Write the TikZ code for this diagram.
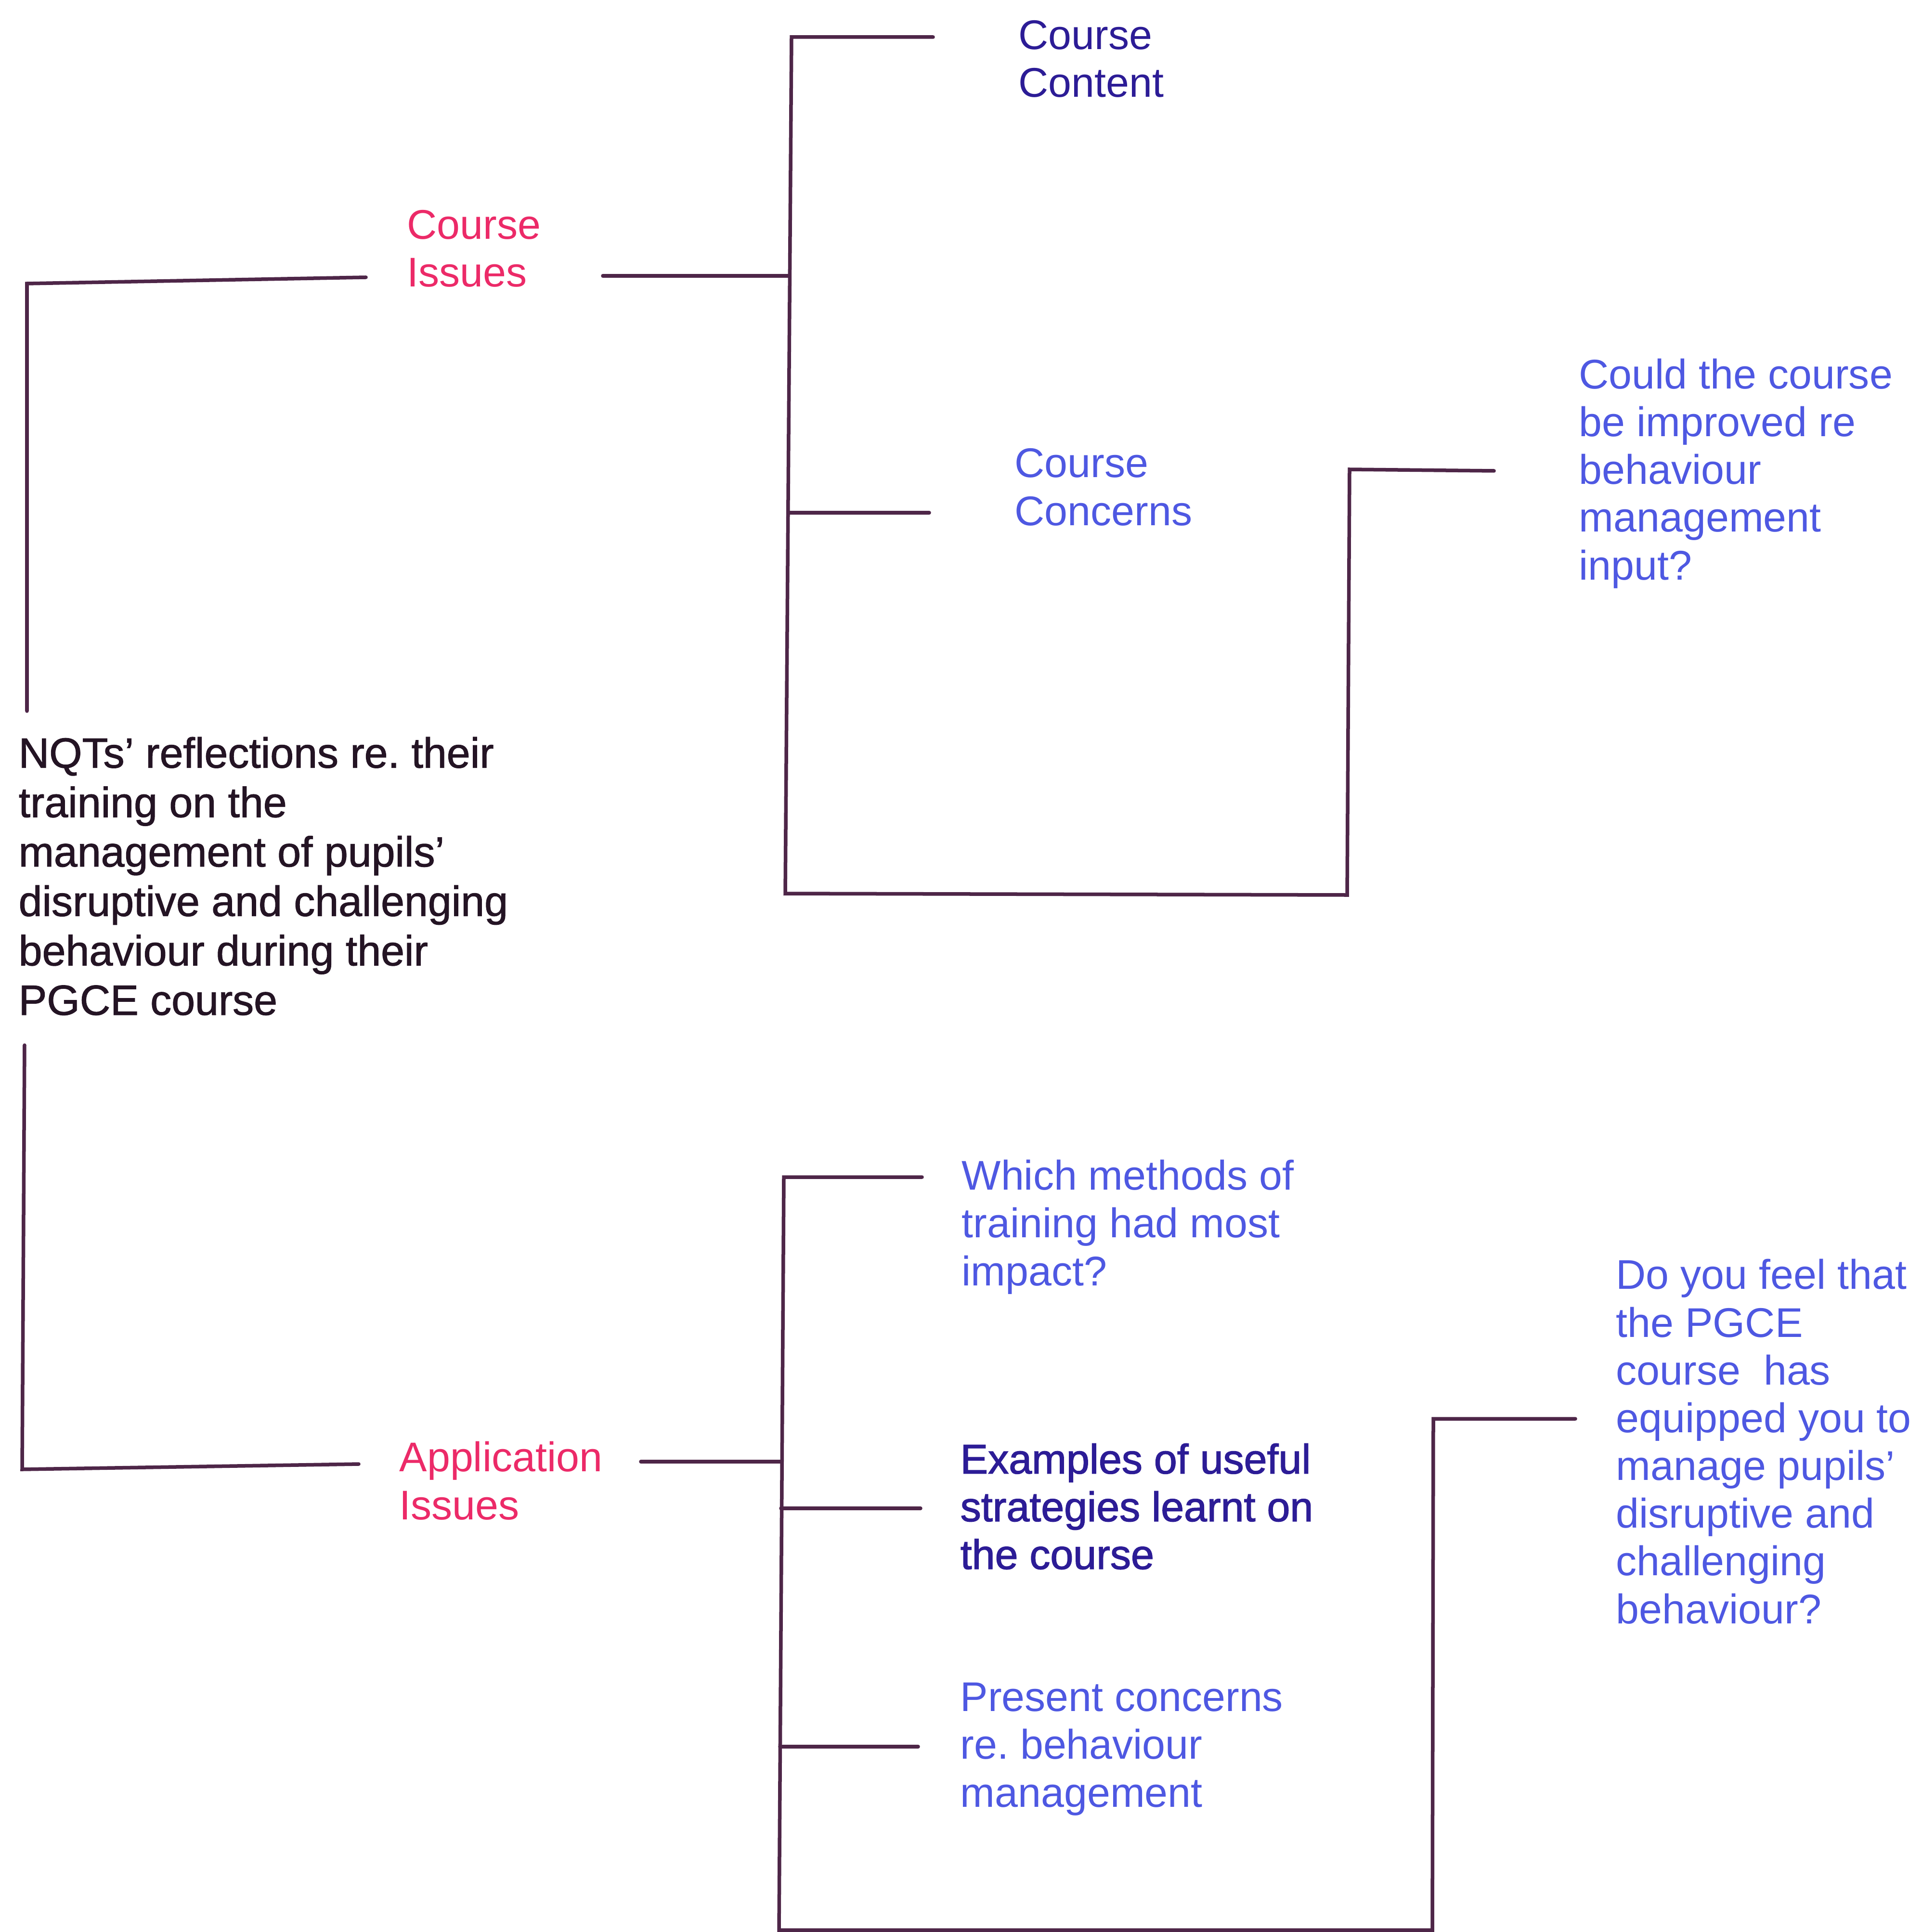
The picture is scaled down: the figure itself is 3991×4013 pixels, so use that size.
\documentclass[tikz,border=0pt]{standalone}
\usepackage{fontspec}
\setmainfont{Liberation Sans}
\newfontfamily\heavyfont[FakeBold=1.2]{Liberation Sans}
\newfontfamily\semifont[FakeBold=1.6]{Liberation Sans}
\definecolor{linecol}{RGB}{78,38,72}
\definecolor{pinkcol}{RGB}{236,42,104}
\definecolor{navycol}{RGB}{44,28,150}
\definecolor{bluecol}{RGB}{78,88,226}
\definecolor{inkcol}{RGB}{36,20,36}
\frenchspacing
\begin{document}
\begin{tikzpicture}[x=0.01cm,y=-0.01cm,
  lbl/.style={anchor=base west,inner sep=0pt,align=left,
    font=\fontsize{24.5}{28.2}\selectfont},
  link/.style={draw=linecol,line width=0.075cm,line cap=round,line join=miter}]
\useasboundingbox (0,0) rectangle (3991,4013);
\fill[white] (0,0) rectangle (3991,4013);

% text labels (each placed by the baseline of its last line)
\node[lbl,text=inkcol,font=\heavyfont\fontsize{25}{29.2}\selectfont] (root) at (38,2108)
  {NQTs’ reflections re. their\\training on the\\management of pupils’\\disruptive and challenging\\behaviour during their\\PGCE course};
\node[lbl,text=pinkcol] (ci) at (845,596) {Course\\Issues};
\node[lbl,text=pinkcol] (ai) at (829,3156) {Application\\Issues};
\node[lbl,text=navycol] (cc) at (2115,202) {Course\\Content};
\node[lbl,text=bluecol] (cn) at (2107,1091) {Course\\Concerns};
\node[lbl,text=bluecol] (cq) at (3279,1204) {Could the course\\be improved re\\behaviour\\management\\input?};
\node[lbl,text=bluecol] (wm) at (1997,2670) {Which methods of\\training had most\\impact?};
\node[lbl,text=navycol,font=\semifont\fontsize{24.5}{28.2}\selectfont] (ex) at (1994,3259)
  {Examples of useful\\strategies learnt on\\the course};
\node[lbl,text=bluecol] (pc) at (1994,3753) {Present concerns\\re. behaviour\\management};
\node[lbl,text=bluecol] (dq) at (3356,3372) {Do you feel that\\the PGCE\\course\ \ has\\equipped you to\\manage pupils’\\disruptive and\\challenging\\behaviour?};

% junction points of the bracket lines
\coordinate (rtop) at (56,1477);
\coordinate (rbot) at (51,2171);
\coordinate (ciL) at (760,576);
\coordinate (ciR) at (1252,573);
\coordinate (aiL) at (745,3041);
\coordinate (aiR) at (1331,3036);
\coordinate (ccL) at (1938,77);
\coordinate (cnL) at (1930,1065);
\coordinate (cqL) at (3103,978);
\coordinate (wmL) at (1915,2445);
\coordinate (exL) at (1912,3133);
\coordinate (pcL) at (1907,3628);
\coordinate (dqL) at (3272,2947);

% root to the two branches
\draw[link] (rtop) -- (56,589) -- (ciL);
\draw[link] (rbot) -- (46,3052) -- (aiL);

% course issues tree
\draw[link] (ciR) -- (1640,573);
\draw[link] (ccL) -- (1644,77) -- (1631,1856) -- (2798,1859) -- (2803,975) -- (cqL);
\draw[link] (1638,1065) -- (cnL);

% application issues tree
\draw[link] (aiR) -- (1624,3036);
\draw[link] (wmL) -- (1628,2445) -- (1618,4009) -- (2975,4009) -- (2977,2947) -- (dqL);
\draw[link] (1622,3133) -- (exL);
\draw[link] (1620,3628) -- (pcL);
\end{tikzpicture}
\end{document}
